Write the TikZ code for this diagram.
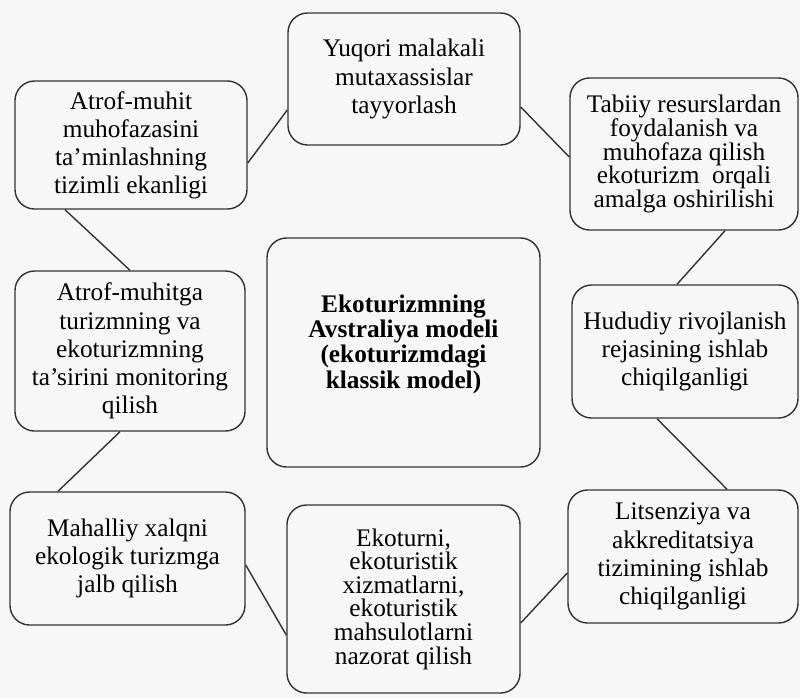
\documentclass[tikz,border=0pt]{standalone}
\usepackage{fontspec}
\setmainfont{Liberation Serif}
\usetikzlibrary{calc}

\begin{document}
\begin{tikzpicture}[
    x=0.025cm, y=-0.025cm,
    factor/.style={rectangle, draw=black!80, line width=1pt, rounded corners=14pt, align=center, inner sep=0pt, font=\fontsize{18}{20}\selectfont},
    tight/.style={font=\fontsize{18}{16.8}\selectfont},
    model/.style={rectangle, draw=black!80, line width=1pt, rounded corners=14pt, align=center, inner sep=0pt, text depth=16pt, font=\fontsize{18}{18}\selectfont\bfseries},
    link/.style={-, line width=1pt, black!80}
]
\fill[black!3] (0,0) rectangle (800,699);
\useasboundingbox (0,0) rectangle (800,699);

\node[factor, minimum width=5.8cm, minimum height=3.3cm] (staff) at (404,79) {Yuqori malakali\\mutaxassislar\\tayyorlash};
\node[factor, minimum width=5.8cm, minimum height=3.2cm] (protect) at (131,145) {Atrof-muhit\\muhofazasini\\ta’minlashning\\tizimli ekanligi};
\node[factor, tight, minimum width=5.7cm, minimum height=3.8cm] (resources) at (684,154) {Tabiiy resurslardan\\foydalanish va\\muhofaza qilish\\ekoturizm~ orqali\\amalga oshirilishi};
\node[factor, minimum width=5.75cm, minimum height=4cm] (monitor) at (130,351) {Atrof-muhitga\\turizmning va\\ekoturizmning\\ta’sirini monitoring\\qilish};
\node[model, minimum width=6.825cm, minimum height=5.725cm] (model) at (403.5,352.5) {Ekoturizmning\\Avstraliya modeli\\(ekoturizmdagi\\klassik model)};
\node[factor, minimum width=5.65cm, minimum height=3.325cm] (plan) at (685,351.5) {Hududiy rivojlanish\\rejasining ishlab\\chiqilganligi};
\node[factor, minimum width=5.875cm, minimum height=3.325cm] (locals) at (127.5,558.5) {Mahalliy xalqni\\ekologik turizmga\\jalb qilish};
\node[factor, tight, minimum width=5.825cm, minimum height=4.7cm] (control) at (403.5,599) {Ekoturni,\\ekoturistik\\xizmatlarni,\\ekoturistik\\mahsulotlarni\\nazorat qilish};
\node[factor, minimum width=5.75cm, minimum height=3.325cm] (license) at (683,556.5) {Litsenziya va\\akkreditatsiya\\tizimining ishlab\\chiqilganligi};

\draw[link] ($(protect.east)+(0,18)$) -- ($(staff.west)+(0,31)$);
\draw[link] ($(staff.east)+(0,28)$) -- ($(resources.west)+(0,3)$);
\draw[link] ($(resources.south)+(41,0)$) -- ($(plan.north)+(-8,0)$);
\draw[link] ($(plan.south)+(-28,0)$) -- ($(license.north)+(44,0)$);
\draw[link] ($(license.west)+(0,16.5)$) -- ($(control.east)+(0,24)$);
\draw[link] ($(control.west)+(0,36)$) -- ($(locals.east)+(0,6.5)$);
\draw[link] ($(locals.north)+(-69.5,0)$) -- ($(monitor.south)+(-10,0)$);
\draw[link] (monitor.north) -- ($(protect.south)+(-66,0)$);
\end{tikzpicture}
\end{document}
